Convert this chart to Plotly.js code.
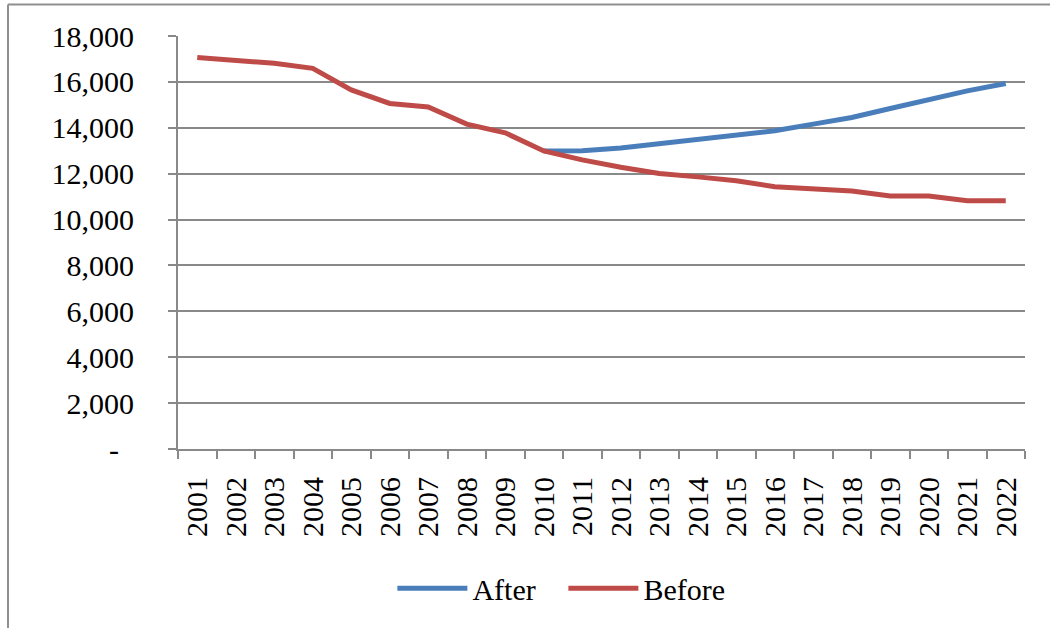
<!DOCTYPE html>
<html>
<head>
<meta charset="utf-8">
<script src="https://cdn.plot.ly/plotly-3.0.1.min.js"></script>
<style>html,body{margin:0;padding:0;background:#fff;}#chart{width:1050px;height:628px;}</style>
</head>
<body>
<div id="chart"></div>
<script>
const years = ["2001","2002","2003","2004","2005","2006","2007","2008","2009","2010","2011","2012","2013","2014","2015","2016","2017","2018","2019","2020","2021","2022"];
const after = [null,null,null,null,null,null,null,null,null,12990,13000,13120,13310,13490,13670,13870,14160,14450,14840,15230,15610,15930];
const before = [17060,16950,16810,16590,15650,15060,14910,14160,13780,12990,12600,12280,12010,11860,11690,11430,11310,11240,11030,11030,10820,10820];
const yTickVals = [0,2000,4000,6000,8000,10000,12000,14000,16000,18000];
const yTickText = ["-\u00a0\u00a0","2,000","4,000","6,000","8,000","10,000","12,000","14,000","16,000","18,000"];

const font = {family: "Liberation Serif, Times New Roman, serif", color: "#000", size: 30};
const grey = "#898989";

const traces = [
  {x: years, y: after, name: "After", type: "scatter", mode: "lines",
   line: {color: "#4A7EBB", width: 5}, connectgaps: false},
  {x: years, y: before, name: "Before", type: "scatter", mode: "lines",
   line: {color: "#BE4B48", width: 5}}
];

const layout = {
  width: 1050, height: 628,
  margin: {l: 178, r: 25, t: 36, b: 179},
  paper_bgcolor: "#fff", plot_bgcolor: "#fff",
  font: font,
  showlegend: true,
  legend: {orientation: "h", x: 0.455, xanchor: "center", y: -0.337, yanchor: "middle",
           font: font, itemwidth: 70, entrywidth: 86, traceorder: "normal", bgcolor: "rgba(0,0,0,0)"},
  xaxis: {type: "category", range: [-0.5, 21.5], tickangle: -90, tickson: "boundaries",
          ticks: "outside", ticklen: 8, tickwidth: 2, tickcolor: grey,
          showline: true, linecolor: grey, linewidth: 2, showgrid: false, zeroline: false,
          tickfont: font, ticklabelstandoff: 14, fixedrange: true},
  yaxis: {range: [0, 18000], tickvals: yTickVals, ticktext: yTickText,
          ticks: "outside", ticklen: 8, tickwidth: 2, tickcolor: grey,
          showline: true, linecolor: grey, linewidth: 2,
          showgrid: true, gridcolor: grey, gridwidth: 2, zeroline: false,
          tickfont: font, ticklabelstandoff: 28, fixedrange: true},
  shapes: [
    {type: "line", xref: "paper", yref: "paper", x0: -0.2007, x1: 1.03, y0: 1.0763, y1: 1.0763,
     line: {color: "#8f8f8f", width: 2}},
    {type: "line", xref: "paper", yref: "paper", x0: -0.2007, x1: -0.2007, y0: 1.0763, y1: -0.44,
     line: {color: "#8f8f8f", width: 2}}
  ]
};

Plotly.newPlot("chart", traces, layout, {displayModeBar: false, staticPlot: true});
</script>
</body>
</html>
